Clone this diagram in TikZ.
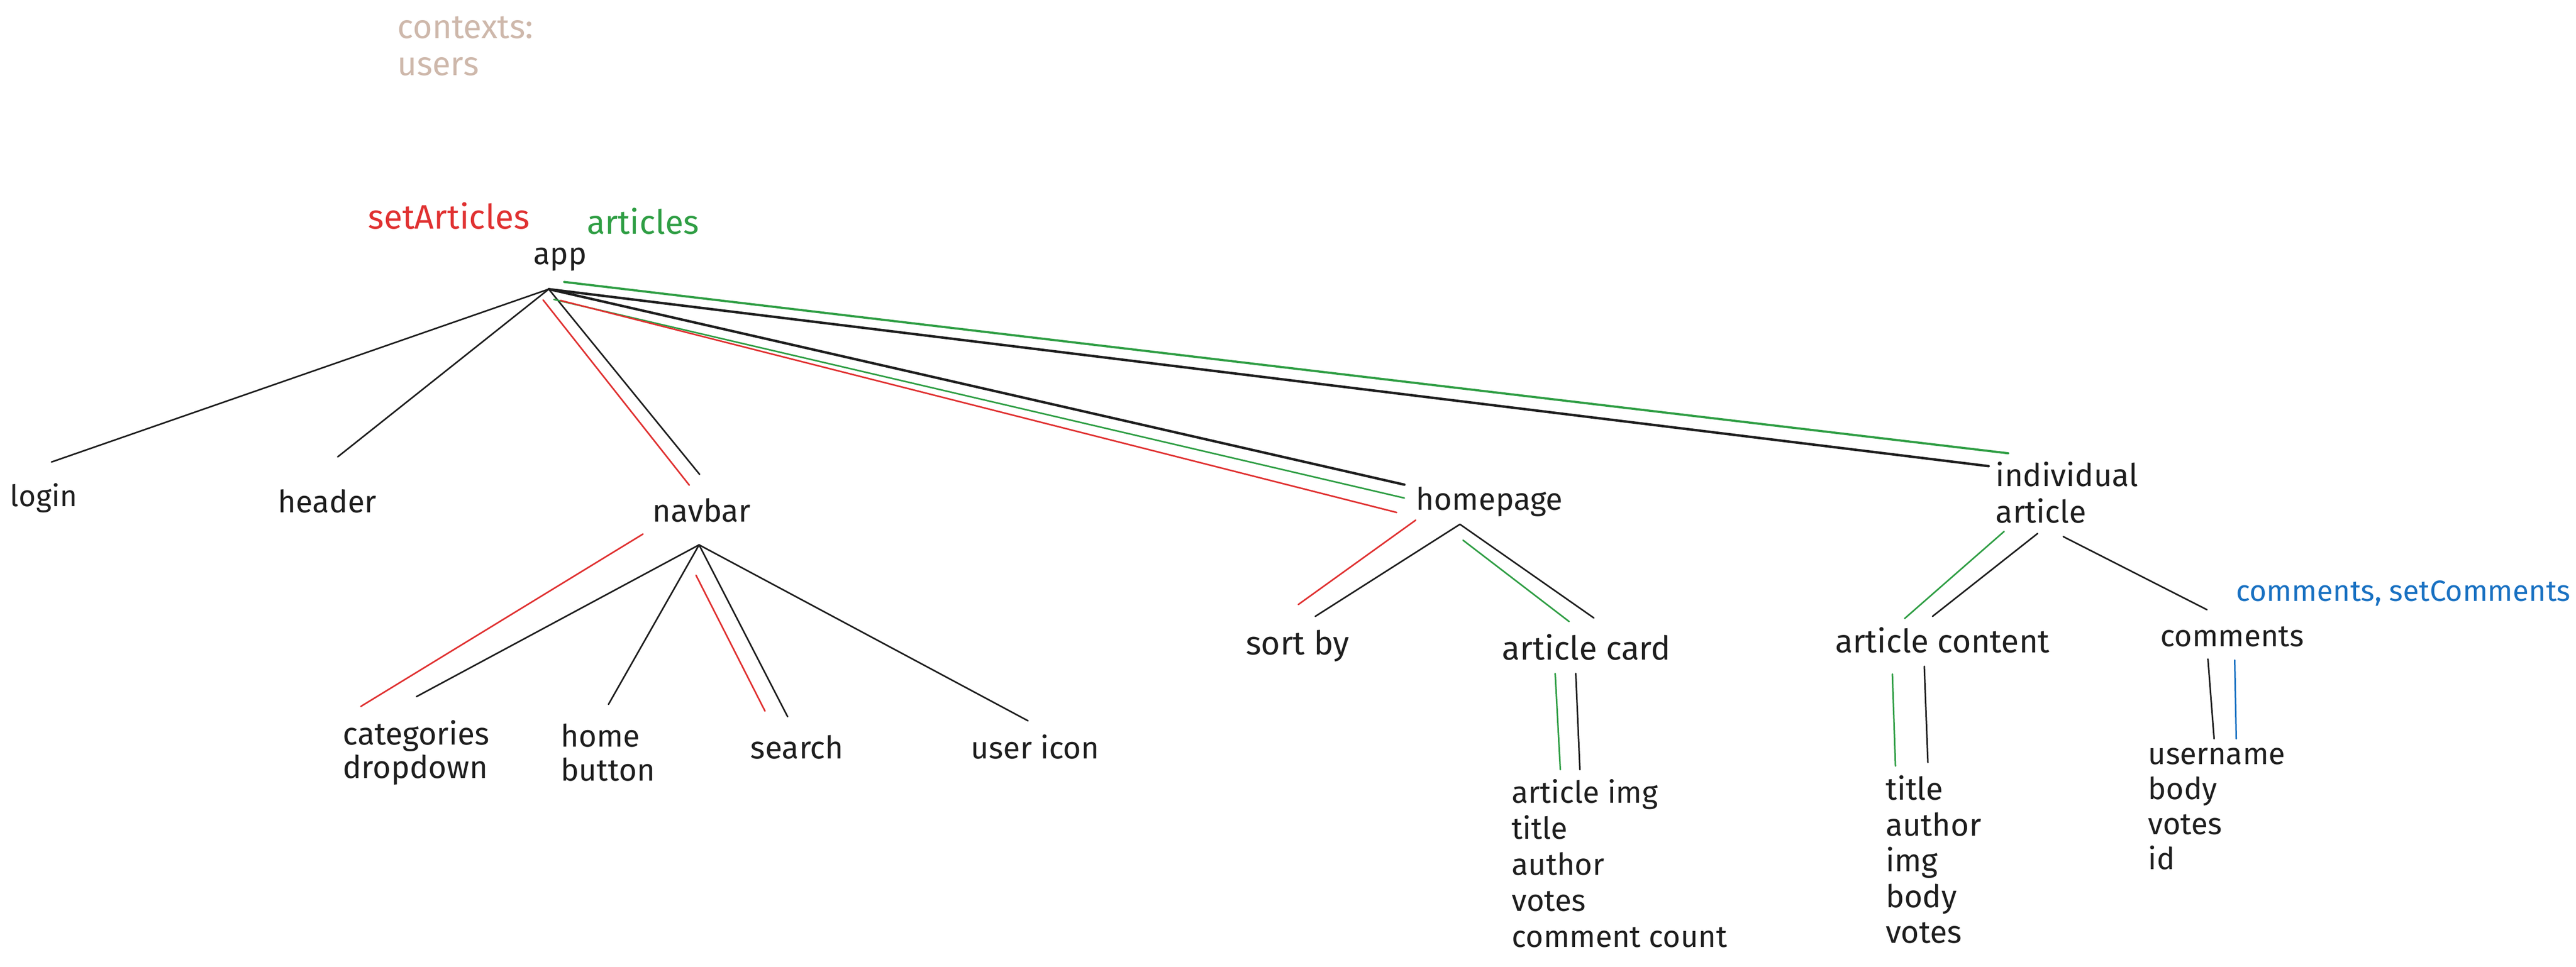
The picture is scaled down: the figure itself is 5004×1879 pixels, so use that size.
\documentclass[tikz,border=0pt]{standalone}
\usepackage{fontspec}
\setmainfont{Fira Sans}
\definecolor{ink}{HTML}{1E1E1E}
\definecolor{xred}{HTML}{E03131}
\definecolor{xgreen}{HTML}{2F9E44}
\definecolor{xblue}{HTML}{1971C2}
\definecolor{ctxtan}{RGB}{206,184,171}
\begin{document}
\begin{tikzpicture}[x=0.2pt,y=-0.2pt,
  lbl/.style={anchor=base west, inner sep=0pt, outer sep=0pt, text=ink, align=left},
  fs/.style 2 args={font=\fontsize{#1}{#2}\selectfont},
  ln/.style={draw=ink, line width=0.6pt, line cap=round},
  lnthick/.style={ln, line width=0.95pt},
  rln/.style={ln, draw=xred},
  gln/.style={ln, draw=xgreen},
  bln/.style={ln, draw=xblue}]
\fill[white] (0,0) rectangle (5004,1879);
\useasboundingbox (0,0) rectangle (5004,1879);

% ---- texts (multi-line nodes are placed by the baseline of their last line) ----
\node[lbl, fs={13}{14.4}, text=ctxtan] (ctx) at (772,147) {contexts:\\users};
\node[lbl, fs={13.2}{15}, text=xred] (setart) at (715,445) {setArticles};
\node[lbl, fs={13}{15}, text=xgreen] (arts) at (1140,455) {articles};
\node[lbl, fs={12}{13}] (app) at (1036,514) {app};
\node[lbl, fs={11.5}{13}] (login) at (20,984) {login};
\node[lbl, fs={12}{13}] (header) at (540,996) {header};
\node[lbl, fs={12.2}{13}] (navbar) at (1268,1014) {navbar};
\node[lbl, fs={12.2}{13}] (cat) at (666,1513) {categories\\dropdown};
\node[lbl, fs={12}{13.2}] (homeb) at (1089,1518) {home\\button};
\node[lbl, fs={12.2}{13}] (search) at (1458,1475) {search};
\node[lbl, fs={12}{13}] (usericon) at (1886,1475) {user icon};
\node[lbl, fs={12}{13}] (homepage) at (2751,991) {homepage};
\node[lbl, fs={12.8}{14}] (sortby) at (2420,1273) {sort by};
\node[lbl, fs={12.8}{14}] (card) at (2918,1283) {article card};
\node[lbl, fs={11.8}{14}] (cardlist) at (2937,1841) {article img\\title\\author\\votes\\comment count};
\node[lbl, fs={12.2}{14.2}] (indiv) at (3877,1016) {individual\\article};
\node[lbl, fs={11.4}{13}, text=xblue] (ctxcom) at (4344,1168) {comments, setComments};
\node[lbl, fs={12.6}{14}] (content) at (3565,1269) {article content};
\node[lbl, fs={11.8}{13}] (comments) at (4197,1256) {comments};
\node[lbl, fs={12.2}{13.9}] (contentlist) at (3663,1833) {title\\author\\img\\body\\votes};
\node[lbl, fs={11.8}{13.6}] (comlist) at (4173,1690) {username\\body\\votes\\id};

% ---- connector end points ----
\coordinate (appA) at (1066,562);
\coordinate (loginE) at (100,898);
\coordinate (headerE) at (656,888);
\coordinate (navbarE) at (1359,922);
\coordinate (appR1) at (1055,583);
\coordinate (navbarR) at (1339,943);
\coordinate (hpE) at (2728,942);
\coordinate (appG1) at (1076,582);
\coordinate (hpG) at (2728,968);
\coordinate (appR2) at (1089,584);
\coordinate (hpR) at (2713,996);
\coordinate (indE) at (3863,906);
\coordinate (appG2) at (1096,548);
\coordinate (indG) at (3901,881);

\coordinate (navA) at (1358,1059);
\coordinate (navR1) at (1249,1038);
\coordinate (catR) at (701,1373);
\coordinate (catE) at (809,1354);
\coordinate (hbE) at (1182,1369);
\coordinate (navR2) at (1352,1118);
\coordinate (srR) at (1486,1382);
\coordinate (srE) at (1530,1393);
\coordinate (uiE) at (1997,1401);

\coordinate (hpA) at (2836,1019);
\coordinate (hpR2) at (2750,1011);
\coordinate (sbR) at (2522,1175);
\coordinate (sbE) at (2555,1198);
\coordinate (hpG2) at (2842,1050);
\coordinate (acG) at (3048,1208);
\coordinate (acE) at (3096,1201);

\coordinate (acG2) at (3021,1309);
\coordinate (clG) at (3031,1496);
\coordinate (acB) at (3061,1309);
\coordinate (clB) at (3069,1496);

\coordinate (iaG) at (3893,1033);
\coordinate (ctG) at (3700,1202);
\coordinate (iaB) at (3958,1037);
\coordinate (ctB) at (3754,1198);
\coordinate (iaC) at (4008,1043);
\coordinate (cmE) at (4287,1185);

\coordinate (ctG2) at (3676,1310);
\coordinate (tlG) at (3682,1489);
\coordinate (ctB2) at (3738,1295);
\coordinate (tlB) at (3745,1482);

\coordinate (cmB) at (4289,1281);
\coordinate (ulB) at (4301,1436);
\coordinate (cmBl) at (4341,1283);
\coordinate (ulBl) at (4344,1436);

% ---- connectors ----
\draw[ln] (appA) -- (loginE);
\draw[ln] (appA) -- (headerE);
\draw[ln] (appA) -- (navbarE);
\draw[rln] (appR1) -- (navbarR);
\draw[lnthick] (appA) -- (hpE);
\draw[gln] (appG1) -- (hpG);
\draw[rln] (appR2) -- (hpR);
\draw[lnthick] (appA) -- (indE);
\draw[gln, line width=0.85pt] (appG2) -- (indG);

\draw[rln] (navR1) -- (catR);
\draw[ln] (navA) -- (catE);
\draw[ln] (navA) -- (hbE);
\draw[rln] (navR2) -- (srR);
\draw[ln] (navA) -- (srE);
\draw[ln] (navA) -- (uiE);

\draw[rln] (hpR2) -- (sbR);
\draw[ln] (hpA) -- (sbE);
\draw[gln] (hpG2) -- (acG);
\draw[ln] (hpA) -- (acE);

\draw[gln] (acG2) -- (clG);
\draw[ln] (acB) -- (clB);

\draw[gln] (iaG) -- (ctG);
\draw[ln] (iaB) -- (ctB);
\draw[ln] (iaC) -- (cmE);

\draw[gln] (ctG2) -- (tlG);
\draw[ln] (ctB2) -- (tlB);

\draw[ln] (cmB) -- (ulB);
\draw[bln] (cmBl) -- (ulBl);
\end{tikzpicture}
\end{document}
